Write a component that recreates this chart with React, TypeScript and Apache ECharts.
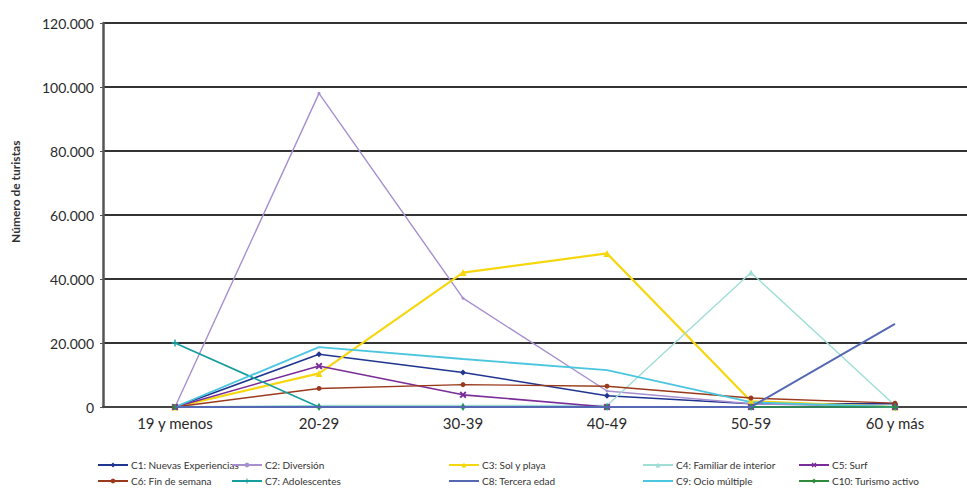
import React, { useEffect, useRef } from "react";
import * as echarts from "echarts";

const categories = ["19 y menos", "20-29", "30-39", "40-49", "50-59", "60 y más"];
const yTicks = { min: 0, max: 120000, interval: 20000 };

const seriesNames = [
  "C1: Nuevas Experiencias",
  "C2: Diversión",
  "C3: Sol y playa",
  "C4: Familiar de interior",
  "C5: Surf",
  "C6: Fin de semana",
  "C7: Adolescentes",
  "C8: Tercera edad",
  "C9: Ocio múltiple",
  "C10: Turismo activo",
];

const c1 = [0, 16500, 10800, 3500, 1000, 1000];
const c2 = [0, 98000, 34000, 5000, 1000, 0];
const c3 = [0, 10500, 42000, 48000, 1800, 0];
const c4 = [0, 500, 500, 500, 42000, 500];
const c5 = [0, 12800, 3800, 0, 0, 0];
const c6 = [0, 5800, 7000, 6500, 2800, 1200];
const c7 = [20000, 0, 0, 0, 0, 0];
const c8 = [0, 0, 0, 0, 0, 26000];
const c9 = [0, 18700, 15000, 11500, 1500, 0];
const c10 = [0, 0, 0, 0, 0, 0];

const seriesData = [c1, c2, c3, c4, c5, c6, c7, c8, c9, c10];

const colors = [
  "#1f3590",
  "#a78fd0",
  "#f6d70f",
  "#9fded6",
  "#7a2d98",
  "#9a3a1c",
  "#169e9e",
  "#5468b4",
  "#4cc6df",
  "#2f8a3c",
];

const xSym = "path://M0 2L2 0L5 3L8 0L10 2L7 5L10 8L8 10L5 7L2 10L0 8L3 5Z";
const plusSym = "path://M4 0L6 0L6 4L10 4L10 6L6 6L6 10L4 10L4 6L0 6L0 4L4 4Z";
const symbols = ["diamond", "circle", "triangle", "triangle", xSym, "circle", plusSym, "none", "none", "diamond"];
const symbolSizes = [6, 3, 7, 6, 7, 5, 7, 0, 0, 6];
const widths = [1.6, 1.4, 2.2, 1.4, 1.6, 1.4, 1.6, 2, 1.8, 1.4];

const FONT = "Lato, 'Open Sans', sans-serif";

export default function App() {
  const ref = useRef<HTMLDivElement>(null);
  useEffect(() => {
    document.body.style.margin = "0";
    if (!ref.current) return;
    const chart = echarts.init(ref.current, null, { renderer: "svg" });
    const legendCols = [92, 226, 443, 637, 793];
    const legendItem = (i: number) =>
      symbols[i] === "none"
        ? { name: seriesNames[i], itemStyle: { opacity: 0 } }
        : { name: seriesNames[i] };
    const legends = legendCols.map((x, i) => ({
      orient: "vertical" as const,
      left: x,
      top: 455,
      itemGap: 6,
      itemWidth: 30,
      itemHeight: 6,
      data: [legendItem(i), legendItem(i + 5)],
      textStyle: { fontFamily: FONT, fontSize: 10, color: "#333", padding: [0, 0, 0, -2] },
    }));
    chart.setOption({
      animation: false,
      backgroundColor: "#ffffff",
      color: colors,
      grid: { left: 103, top: 23, width: 881, height: 384, containLabel: false },
      legend: legends,
      graphic: [
        {
          type: "text",
          x: 9,
          y: 243,
          rotation: Math.PI / 2,
          style: {
            text: "Número de turistas",
            fontFamily: FONT,
            fontSize: 12,
            fontWeight: "bold",
            fill: "#333",
          },
        },
      ],
      xAxis: {
        type: "category",
        data: categories,
        boundaryGap: true,
        axisLine: { show: true, lineStyle: { color: "#444", width: 2 } },
        axisTick: { show: false },
        axisLabel: { fontFamily: FONT, fontSize: 15, color: "#2a2a2a", margin: 8 },
      },
      yAxis: {
        type: "value",
        min: yTicks.min,
        max: yTicks.max,
        interval: yTicks.interval,
        axisLine: { show: true, lineStyle: { color: "#555", width: 2.5 } },
        axisTick: { show: true, length: 3, lineStyle: { color: "#555" } },
        splitLine: { show: true, lineStyle: { color: "#333", width: 1.8 } },
        axisLabel: {
          fontFamily: FONT,
          fontSize: 14,
          color: "#2a2a2a",
          margin: 9,
          formatter: (v: number) => (v === 0 ? "0" : v.toLocaleString("de-DE")),
        },
      },
      series: seriesNames.map((name, i) => ({
        name,
        type: "line",
        data: seriesData[i],
        symbol: symbols[i],
        symbolSize: symbolSizes[i],
        showSymbol: symbols[i] !== "none",
        lineStyle: { width: widths[i], color: colors[i] },
        itemStyle: { color: colors[i], borderWidth: 0 },
        z: i === 7 ? 3 : 2,
      })),
    });
    return () => chart.dispose();
  }, []);
  return <div ref={ref} style={{ width: 967, height: 491 }} />;
}
